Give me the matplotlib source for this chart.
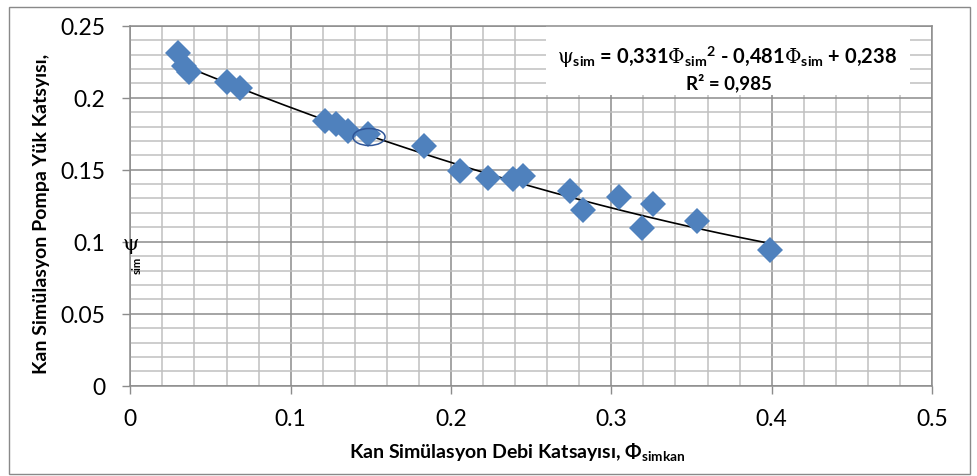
import numpy as np
import matplotlib
matplotlib.use("Agg")
import matplotlib.pyplot as plt
from matplotlib.patches import Ellipse, Rectangle
from matplotlib.ticker import MultipleLocator, FormatStrFormatter

plt.rcParams['font.family'] = ['Lato', 'DejaVu Sans']
plt.rcParams['mathtext.fontset'] = 'custom'
plt.rcParams['mathtext.rm'] = 'Lato'
plt.rcParams['mathtext.bf'] = 'Lato:bold'
plt.rcParams['mathtext.it'] = 'Lato:italic'
plt.rcParams['mathtext.sf'] = 'DejaVu Serif'

# ==== DATA ====
phi_sim = [0.0300, 0.0335, 0.0366, 0.0601, 0.0684, 0.1214, 0.1283, 0.1360,
           0.1484, 0.1832, 0.2056, 0.2229, 0.2385, 0.2448, 0.2743, 0.2825,
           0.3050, 0.3190, 0.3262, 0.3536, 0.3990]
psi_sim = [0.2310, 0.2220, 0.2179, 0.2107, 0.2065, 0.1840, 0.1817, 0.1771,
           0.1748, 0.1667, 0.1493, 0.1440, 0.1435, 0.1458, 0.1354, 0.1220,
           0.1313, 0.1095, 0.1262, 0.1142, 0.0944]
trend_coef = [0.331, -0.481, 0.238]   # psi = a*phi^2 + b*phi + c
r_squared = "0,985"
circled_phi = 0.1489
circled_psi = 0.1727

x_ticks = [0, 0.1, 0.2, 0.3, 0.4, 0.5]
y_ticks = [0, 0.05, 0.1, 0.15, 0.2, 0.25]

# ==== COLOURS ====
MARKER = "#4F81BD"
MAJOR_GRID = "#8C8C8C"
MINOR_GRID = "#C0C0C0"

W, H = 978, 477
fig = plt.figure(figsize=(W / 100, H / 100), dpi=100)
ax = fig.add_axes([130.3 / W, 1 - 386.7 / H, (932 - 130.3) / W, 360 / H])

ax.set_xlim(x_ticks[0], x_ticks[-1])
ax.set_ylim(y_ticks[0], y_ticks[-1])
ax.xaxis.set_major_locator(MultipleLocator(0.1))
ax.xaxis.set_minor_locator(MultipleLocator(0.02))
ax.yaxis.set_major_locator(MultipleLocator(0.05))
ax.yaxis.set_minor_locator(MultipleLocator(0.01))
ax.xaxis.set_major_formatter(FormatStrFormatter("%g"))
ax.yaxis.set_major_formatter(FormatStrFormatter("%g"))

ax.set_axisbelow(True)
ax.grid(which="minor", color=MINOR_GRID, lw=1.1, zorder=0)
ax.grid(which="major", color=MAJOR_GRID, lw=1.1, zorder=0.5)
ax.tick_params(which="minor", length=0)
ax.tick_params(which="major", length=6, width=1, color=MAJOR_GRID,
               labelsize=16.5, colors="black")
ax.tick_params(axis="y", pad=12)
ax.tick_params(axis="x", pad=10)
for s in ax.spines.values():
    s.set_color(MAJOR_GRID)
    s.set_linewidth(1.1)

# equation box hides the grid under it
ax.add_patch(Rectangle((0.2593, 0.2019), 0.4863 - 0.2593, 0.25 - 0.2019,
                       facecolor="white", edgecolor="none", zorder=1))

# trend line
xs = np.linspace(min(phi_sim), max(phi_sim), 200)
ax.plot(xs, np.polyval(trend_coef, xs), color="black", lw=1.2, zorder=2)

# points
ax.plot(phi_sim, psi_sim, linestyle="none", marker="D", markersize=13.5,
        markeredgewidth=0, color=MARKER, zorder=3)

ax.add_patch(Ellipse((circled_phi, circled_psi), 0.02, 0.0118, fill=False,
                     edgecolor="#2F5597", lw=1.1, zorder=4))

# equation
eq = (r"$\mathsf{\psi}_{\mathbf{sim}}$ = 0,331$\mathsf{\Phi}_{\mathbf{sim}}{}^{\mathbf{2}}$"
      r" - 0,481$\mathsf{\Phi}_{\mathbf{sim}}$ + 0,238")
fig.text(727 / W, 1 - 57 / H, eq, ha="center", va="center", fontsize=14.5,
         fontweight="bold")
fig.text(729 / W, 1 - 83 / H, "R² = " + r_squared, ha="center", va="center",
         fontsize=13.5, fontweight="bold")

# axis titles
fig.text(517 / W, 1 - 452 / H,
         r"Kan Simülasyon Debi Katsayısı, $\mathbf{\Phi}_{\mathbf{simkan}}$",
         ha="center", va="center", fontsize=14, fontweight="bold")
fig.text(42 / W, 1 - 214 / H, "Kan Simülasyon Pompa Yük Katsyısı,",
         ha="center", va="center", rotation=90, fontsize=14, fontweight="bold")
fig.text(131 / W, 1 - 246 / H, r"$\mathsf{\psi}$", ha="center", va="center",
         fontsize=15)
fig.text(137 / W, 1 - 265 / H, "sim", ha="center", va="center", rotation=90,
         fontsize=8, fontweight="bold")

# outer chart border
fig.patches.append(Rectangle((9 / W, 1 - 475 / H), (970 - 9) / W, (475 - 8) / H,
                             transform=fig.transFigure, fill=False,
                             edgecolor="#898989", lw=1.0))

fig.savefig("out.png", dpi=100)
